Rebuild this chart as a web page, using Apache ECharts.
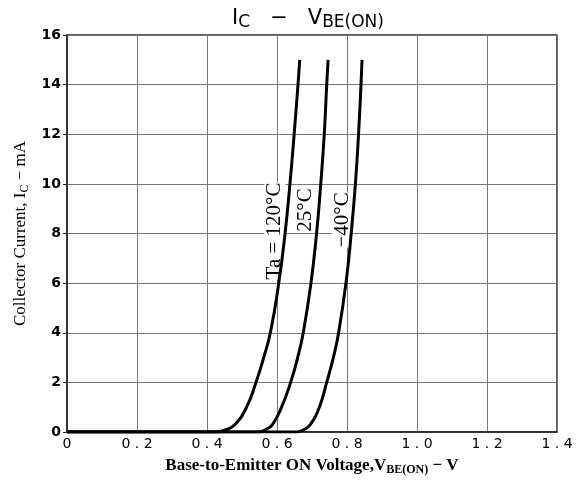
<!DOCTYPE html>
<html>
<head>
<meta charset="UTF-8">
<title>IC - VBE(ON)</title>
<script src="https://cdn.jsdelivr.net/npm/echarts@6/dist/echarts.min.js"></script>
<style>
	html, body { margin:0; padding:0; background:#fff; }
	#chart { width:583px; height:481px; }
</style>
</head>
<body>
	<div id="chart"></div>
	<script type="text/javascript">
		// collector current points (mA) shared by all three curves
		var current = [0, 0, 0.1, 0.3, 1, 2, 3, 4, 6, 8, 10, 12, 14, 15];
		// base-emitter voltage (V) read at each current, per ambient temp
		var vbe_120 = [0, 0.425, 0.455, 0.480, 0.513, 0.540, 0.562, 0.581, 0.605, 0.623, 0.637, 0.649, 0.660, 0.665];
		var vbe_25  = [0, 0.545, 0.568, 0.587, 0.613, 0.639, 0.659, 0.675, 0.697, 0.713, 0.725, 0.735, 0.742, 0.746];
		var vbe_m40 = [0, 0.655, 0.677, 0.695, 0.721, 0.742, 0.761, 0.776, 0.797, 0.812, 0.824, 0.833, 0.840, 0.843];

		// curve labels: text + anchor point in data units
		var curveLabels = [
			{ text: 'Ta = 120°C', at: [0.594, 8.1] },
			{ text: '25°C', at: [0.680, 8.95] },
			{ text: '\u221240°C', at: [0.786, 8.55] }
		];

		window.onload = iniPage;

		function iniPage(){
			drawChart();
		}

		function pairs(xs){
			var out = [];
			for(var i=0; i<xs.length; i++){
				out.push([xs[i], current[i]]);
			}
			return out;
		}

		function curve(name, xs){
			return {
				name: name,
				type: 'line',
				data: pairs(xs),
				smooth: 0.5,
				symbol: 'none',
				lineStyle: { color: '#000', width: 3 }
			};
		}

		function drawChart(){
			var myChart = echarts.init(document.getElementById('chart'));

			var serif = '"Liberation Serif", "DejaVu Serif", serif';
			var sans = '"DejaVu Sans", sans-serif';

			var option = {
				backgroundColor: '#fff',
				animation: false,
				title: {
					text: '{i|I}{s|C}{i|   \u2212   V}{s|BE(ON)}',
					left: 303,
					textAlign: 'center',
					top: 1,
					textStyle: {
						fontWeight: 'normal',
						rich: {
							i: { fontFamily: sans, fontSize: 21, fontWeight: 'normal', color: '#000' },
							s: { fontFamily: sans, fontSize: 17, fontWeight: 'normal', color: '#000', padding: [8, 0, 0, 0] }
						}
					}
				},
				grid: {
					left: 67, right: 26, top: 35, bottom: 48,
					show: true,
					borderColor: '#222',
					borderWidth: 1.5
				},
				xAxis: {
					type: 'value',
					min: 0, max: 1.4, interval: 0.2,
					name: '{b|Base-to-Emitter ON Voltage,V}{s|BE(ON)}{b| \u2212 V}',
					nameLocation: 'middle',
					nameGap: 24,
					nameTextStyle: {
						rich: {
							b: { fontFamily: serif, fontWeight: 'bold', fontSize: 17, color: '#000' },
							s: { fontFamily: serif, fontWeight: 'bold', fontSize: 12, color: '#000', padding: [8, 0, 0, 0] }
						}
					},
					axisLine: { lineStyle: { color: '#222', width: 1.5 } },
					axisTick: { show: false },
					splitLine: { lineStyle: { color: '#777', width: 1 } },
					axisLabel: {
						margin: 5,
						fontFamily: sans,
						fontSize: 14,
						color: '#000',
						formatter: function(v){
							if(v === 0) return '0';
							return v.toFixed(1).split('').join(' ');
						}
					}
				},
				yAxis: {
					type: 'value',
					min: 0, max: 16, interval: 2,
					name: '{r|Collector Current, I}{s|C}{r| \u2212 mA}',
					nameLocation: 'middle',
					nameGap: 36,
					nameTextStyle: {
						rich: {
							r: { fontFamily: serif, fontSize: 17, color: '#000' },
							s: { fontFamily: serif, fontSize: 12, color: '#000', padding: [8, 0, 0, 0] }
						}
					},
					axisLine: { lineStyle: { color: '#222', width: 1.5 } },
					axisTick: { show: true, length: 4, lineStyle: { color: '#222' } },
					splitLine: { lineStyle: { color: '#777', width: 1 } },
					axisLabel: {
						margin: 6,
						fontFamily: sans,
						fontWeight: 'bold',
						fontSize: 14,
						color: '#000'
					}
				},
				series: [
					curve('120', vbe_120),
					curve('25', vbe_25),
					curve('-40', vbe_m40)
				]
			};

			myChart.setOption(option);

			// rotated temperature labels placed through the axis scales
			var texts = [];
			for(var i=0; i<curveLabels.length; i++){
				var p = myChart.convertToPixel({ gridIndex: 0 }, curveLabels[i].at);
				texts.push({
					type: 'text',
					x: p[0], y: p[1],
					rotation: Math.PI / 2,
					style: {
						text: curveLabels[i].text,
						font: '21px ' + serif,
						fill: '#000',
						backgroundColor: '#fff',
						align: 'center',
						verticalAlign: 'middle'
					}
				});
			}
			myChart.setOption({ graphic: texts });
		}
	</script>
</body>
</html>
